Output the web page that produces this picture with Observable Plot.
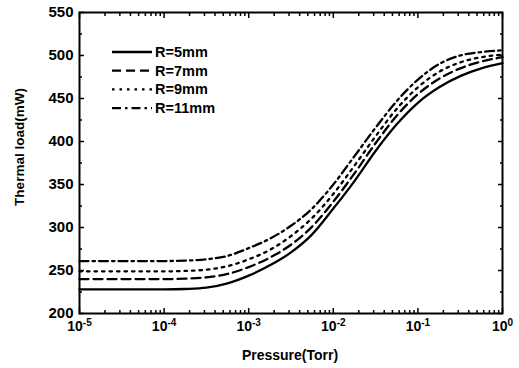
<!DOCTYPE html>
<html><head><meta charset="utf-8">
<script src="https://cdn.jsdelivr.net/npm/d3@7"></script>
<script src="https://cdn.jsdelivr.net/npm/@observablehq/plot@0.6"></script>
<style>
body{margin:0;background:#fff}
#chart{position:relative;width:519px;height:368px}
svg{font-family:"Liberation Sans",Arial,sans-serif}
</style>
</head><body><div id="chart"></div>
<script>
// Pressure (Torr) sample points
const pressure = [1e-5, 3.16e-5, 1e-4, 1.78e-4, 3.16e-4, 5.62e-4, 1e-3, 1.78e-3, 3.16e-3, 5.62e-3,
                  1e-2, 1.78e-2, 3.16e-2, 5.62e-2, 1e-1, 1.78e-1, 3.16e-1, 5.62e-1, 1];
// Thermal load (mW)
const r5  = [228, 228, 228, 228.5, 230, 235, 244, 256, 271, 292, 322, 354, 389, 420, 445, 463, 476, 485, 491];
const r7  = [240, 240, 240, 240.5, 242, 246, 254, 265, 280, 301, 330, 363, 398, 430, 455, 473, 485, 493, 498];
const r9  = [249, 249, 249, 249.5, 251, 255, 263, 274, 290, 311, 339, 372, 406, 438, 463, 481, 492, 498, 501];
const r11 = [261, 261, 261, 261.5, 263, 267, 276, 287, 302, 322, 350, 383, 416, 447, 472, 490, 500, 504, 506];
const seriesNames = ["R=5mm", "R=7mm", "R=9mm", "R=11mm"];
const seriesValues = [r5, r7, r9, r11];
const dashes = [null, "9,5", "2.5,5", "9,4,2.5,4"];

const xMajor = [1e-5, 1e-4, 1e-3, 1e-2, 1e-1, 1];
const xMajorLabels = ["10^-5", "10^-4", "10^-3", "10^-2", "10^-1", "10^0"];
const xMinor = xMajor.slice(0, -1).flatMap(d => [2,3,4,5,6,7,8,9].map(k => d * k));
const yMajor = [200, 250, 300, 350, 400, 450, 500, 550];
const yMinor = [225, 275, 325, 375, 425, 475, 525];

const lineMarks = seriesValues.map((vals, i) =>
  Plot.line(pressure.map((p, j) => ({p, v: vals[j]})), {
    x: "p", y: "v", curve: "monotone-x", stroke: "#000",
    strokeWidth: 2.3, strokeDasharray: dashes[i]
  }));

const blank = () => "";
const tk = {tickFormat: blank, label: null, strokeWidth: 1.5};
const chart = Plot.plot({
  width: 519, height: 368,
  marginLeft: 79, marginRight: 17, marginTop: 12, marginBottom: 55,
  x: {type: "log", domain: [1e-5, 1], label: null},
  y: {domain: [200, 550], label: null},
  style: {fontFamily: "'Liberation Sans', Arial, sans-serif", fontSize: "14px", fontWeight: "bold", color: "#000", background: "#fff"},
  marks: [
    ...lineMarks,
    Plot.axisX({anchor: "bottom", ticks: xMajor, tickSize: 0, tickPadding: 8, tickFormat: d => xMajorLabels[xMajor.indexOf(d)], label: null, fontSize: 14}),
    Plot.axisX({anchor: "bottom", ticks: xMajor, tickSize: 5, dy: -5, ...tk}),
    Plot.axisX({anchor: "bottom", ticks: xMinor, tickSize: 3, dy: -3, ...tk}),
    Plot.axisX({anchor: "top", ticks: xMajor, tickSize: 5, dy: 5, ...tk}),
    Plot.axisX({anchor: "top", ticks: xMinor, tickSize: 3, dy: 3, ...tk}),
    Plot.axisY({anchor: "left", ticks: yMajor, tickSize: 0, tickPadding: 6, tickFormat: d => String(d), label: null, fontSize: 15}),
    Plot.axisY({anchor: "left", ticks: yMajor, tickSize: 5, dx: 5, ...tk}),
    Plot.axisY({anchor: "left", ticks: yMinor, tickSize: 3, dx: 3, ...tk}),
    Plot.axisY({anchor: "right", ticks: yMajor, tickSize: 5, dx: -5, ...tk}),
    Plot.axisY({anchor: "right", ticks: yMinor, tickSize: 3, dx: -3, ...tk}),
    Plot.frame({stroke: "#000", strokeWidth: 2})
  ]
});
document.getElementById("chart").appendChild(chart);

const svg = d3.select(chart);
// superscripts on x tick labels
svg.selectAll('g[aria-label="x-axis tick label"] text').each(function() {
  const t = d3.select(this);
  const s = t.text();
  if (!s.includes("^")) return;
  const [base, exp] = s.split("^");
  t.text(null);
  t.append("tspan").text(base);
  t.append("tspan").attr("dy", "-0.5em").attr("font-size", "10px").text(exp);
});

// axis titles
svg.append("text").attr("x", 290).attr("y", 360).attr("text-anchor", "middle")
  .attr("font-size", 14).attr("font-weight", "bold").text("Pressure(Torr)");
svg.append("text").attr("transform", "translate(24,147) rotate(-90)").attr("text-anchor", "middle")
  .attr("font-size", 13.5).attr("font-weight", "bold").text("Thermal load(mW)");

// legend
const lg = svg.append("g");
seriesNames.forEach((name, i) => {
  const y = 52 + i * 18.7;
  lg.append("line").attr("x1", 112).attr("x2", 152).attr("y1", y).attr("y2", y)
    .attr("stroke", "#000").attr("stroke-width", 2.3).attr("stroke-dasharray", dashes[i]);
  lg.append("text").attr("x", 155).attr("y", y + 5).attr("font-size", 14.5)
    .attr("text-anchor", "start").attr("font-weight", "bold").text(name);
});
</script>
</body></html>
